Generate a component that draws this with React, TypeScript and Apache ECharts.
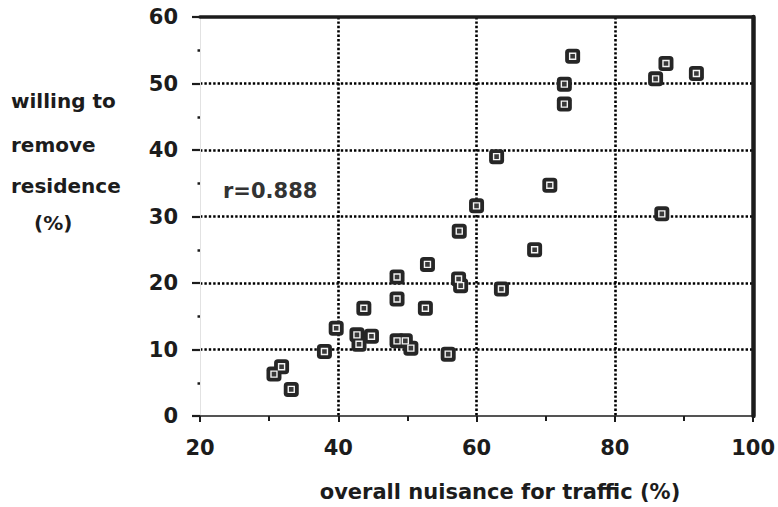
import React, { useEffect, useRef } from "react";
import * as echarts from "echarts";

// Overall nuisance for traffic (%) vs. share willing to remove residence (%)
const nuisance = [
  73.9, 72.7, 72.7, 87.4, 85.9, 91.8, 62.9, 70.6, 86.8, 60.0, 57.5, 68.4, 52.9,
  48.5, 57.4, 57.7, 63.6, 48.5, 52.6, 43.7, 39.7, 42.7, 44.8, 43.0, 48.5, 49.7,
  50.5, 38.0, 55.9, 31.8, 30.7, 33.2,
];
const willing = [
  54.1, 49.9, 46.9, 53.0, 50.7, 51.5, 39.0, 34.7, 30.4, 31.6, 27.8, 25.0, 22.8,
  20.9, 20.6, 19.6, 19.1, 17.6, 16.2, 16.2, 13.2, 12.2, 12.0, 10.8, 11.3, 11.3,
  10.2, 9.7, 9.3, 7.4, 6.3, 4.0,
];
const yTitleLines = ["willing to", "remove", "residence", "(%)"];
const xTitle = "overall nuisance for traffic (%)";
const corrLabel = "r=0.888";

const FONT = "'DejaVu Sans', Verdana, sans-serif";
const INK = "#1c1c1c";

export default function App() {
  const ref = useRef<HTMLDivElement>(null);

  useEffect(() => {
    if (!ref.current) return;
    const chart = echarts.init(ref.current, null, { renderer: "svg" });
    const points = nuisance.map((x, i) => [x, willing[i]]);
    // dotted grid, drawn as heavy dots
    const dotted = { color: "#000", width: 2.6, type: [2.4, 2] as number[] };

    chart.setOption({
      animation: false,
      backgroundColor: "#fff",
      textStyle: { fontFamily: FONT },
      grid: { left: 200, right: 21, top: 17, bottom: 91 },
      xAxis: [
        {
          type: "value",
          min: 20,
          max: 100,
          interval: 20,
          axisLine: { show: true, onZero: false, lineStyle: { color: INK, width: 1.6 } },
          axisTick: { show: true, length: 6, lineStyle: { color: INK, width: 2 } },
          minorTick: { show: true, splitNumber: 2, length: 5, lineStyle: { color: INK, width: 2 } },
          axisLabel: {
            margin: 21,
            color: INK,
            fontFamily: FONT,
            fontWeight: "bold",
            fontSize: 21,
          },
          splitLine: { show: true, showMinLine: false, showMaxLine: false, lineStyle: dotted },
        },
        {
          type: "value",
          position: "top",
          min: 20,
          max: 100,
          axisLine: { show: true, onZero: false, lineStyle: { color: INK, width: 3.5 } },
          axisTick: { show: false },
          axisLabel: { show: false },
          splitLine: { show: false },
        },
      ],
      yAxis: [
        {
          type: "value",
          min: 0,
          max: 60,
          interval: 10,
          axisLine: { show: true, onZero: false, lineStyle: { color: "#e2e2e2", width: 1 } },
          axisTick: { show: true, length: 8, lineStyle: { color: INK, width: 2.2 } },
          minorTick: { show: true, splitNumber: 2, length: 2.5, lineStyle: { color: INK, width: 2.5 } },
          axisLabel: {
            margin: 22,
            color: INK,
            fontFamily: FONT,
            fontWeight: "bold",
            fontSize: 21,
          },
          splitLine: { show: true, showMinLine: false, showMaxLine: false, lineStyle: dotted },
        },
        {
          type: "value",
          position: "right",
          min: 0,
          max: 60,
          axisLine: { show: true, onZero: false, lineStyle: { color: INK, width: 4.5 } },
          axisTick: { show: false },
          axisLabel: { show: false },
          splitLine: { show: false },
        },
      ],
      series: [
        {
          type: "scatter",
          data: points,
          symbol: "roundRect",
          symbolSize: 15,
          itemStyle: { color: "#262626", opacity: 1 },
          z: 3,
        },
        {
          type: "scatter",
          data: points,
          symbol: "rect",
          symbolSize: 6,
          itemStyle: { color: "#3a3a3a", borderColor: "#f4f4f4", borderWidth: 1.4, opacity: 1 },
          z: 4,
          silent: true,
        },
      ],
      graphic: [
        ...yTitleLines.map((t, i) => ({
          type: "text",
          left: i === 3 ? 34 : 11,
          top: [91, 135, 176, 213][i],
          style: { text: t, fill: INK, font: `bold 20px ${FONT}` },
        })),
        {
          type: "text",
          left: 223,
          top: 180,
          style: { text: corrLabel, fill: "#333", font: `bold 21px ${FONT}` },
        },
        {
          type: "text",
          x: 500,
          y: 492,
          style: {
            text: xTitle,
            fill: INK,
            font: `bold 21px ${FONT}`,
            align: "center",
            verticalAlign: "middle",
          },
        },
      ],
    });

    return () => chart.dispose();
  }, []);

  return (
    <div
      ref={ref}
      style={{ position: "absolute", left: 0, top: 0, width: 778, height: 507 }}
    />
  );
}
